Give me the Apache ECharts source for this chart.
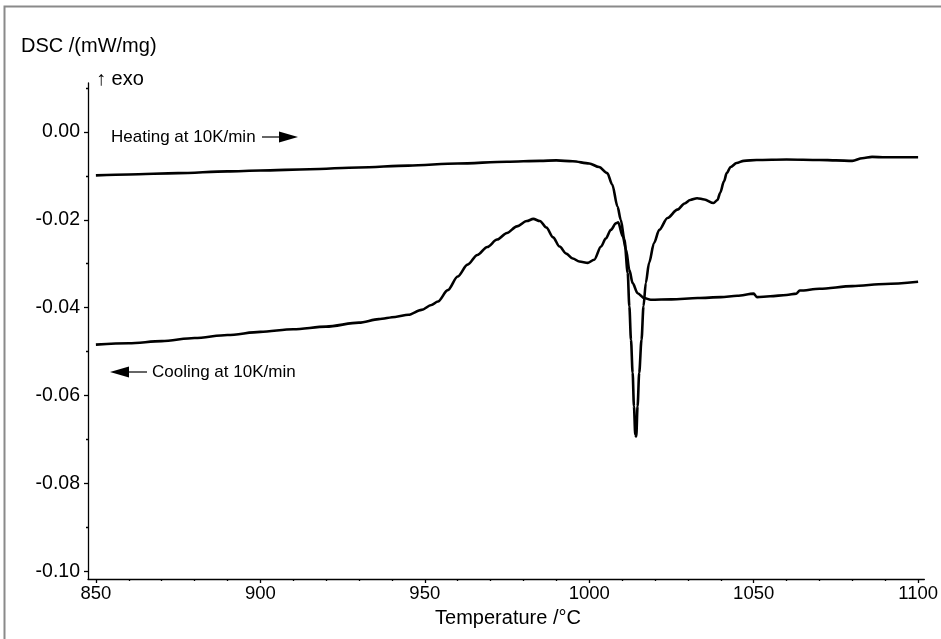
<!DOCTYPE html>
<html>
<head>
<meta charset="utf-8">
<script src="https://cdn.jsdelivr.net/npm/echarts@6/dist/echarts.min.js"></script>
<style>
html,body{margin:0;padding:0;background:#fff;}
#c{width:941px;height:639px;}
</style>
</head>
<body>
<div id="c"></div>
<script>
// ---- data ----
const heatT = [850,860,875,890,900,915,930,945,960,975,985,990,995,1000,1003,1005.5,1007,1008.6,1009.6,1010.7,1011.7,1012.2,1012.7,1013.2,1013.6,1014.0,1014.3,1014.7,1015.2,1015.9,1016.5,1017.2,1018.2,1019.7,1021.3,1023.8,1026.8,1029,1030.7,1032.8,1035,1037.8,1039,1039.8,1041,1041.8,1043,1044.8,1047,1050.9,1060,1070,1075,1080,1083,1086,1090,1095,1100];
const heatV = [-0.0099,-0.0097,-0.0094,-0.0090,-0.0088,-0.0085,-0.0081,-0.0077,-0.0072,-0.0068,-0.0066,-0.0065,-0.0067,-0.0072,-0.0080,-0.0094,-0.0120,-0.0170,-0.0200,-0.0245,-0.0321,-0.0397,-0.0473,-0.0548,-0.0624,-0.0689,-0.0693,-0.0624,-0.0548,-0.0473,-0.0397,-0.0344,-0.0298,-0.0253,-0.0223,-0.0196,-0.0177,-0.0163,-0.0155,-0.0151,-0.0154,-0.0162,-0.0155,-0.0139,-0.0112,-0.0094,-0.0080,-0.0071,-0.0066,-0.0064,-0.0063,-0.0064,-0.0065,-0.0066,-0.0060,-0.0057,-0.0058,-0.0058,-0.0058];
const coolT = [850,860,870,880,890,900,910,920,930,936,941,945,949,952,954,957,960,963,966,969,972,975,978,981,983,985,987,989,991,993,995,997,999.6,1001.5,1003.6,1005,1006.6,1008.1,1008.8,1010.2,1011.2,1012.2,1013.2,1014.7,1016.7,1018.7,1025,1033,1040,1045,1050,1051,1055,1060,1063,1064,1070,1080,1090,1100];
const coolV = [-0.0484,-0.0481,-0.0476,-0.0469,-0.0462,-0.0455,-0.0449,-0.0443,-0.0434,-0.0426,-0.0421,-0.0416,-0.0405,-0.0394,-0.0386,-0.0360,-0.0329,-0.0302,-0.0280,-0.0262,-0.0245,-0.0230,-0.0215,-0.0203,-0.0198,-0.0203,-0.0218,-0.0240,-0.0261,-0.0277,-0.0288,-0.0295,-0.0298,-0.0291,-0.0261,-0.0243,-0.0223,-0.0208,-0.0206,-0.0238,-0.0268,-0.0314,-0.0344,-0.0367,-0.0378,-0.0382,-0.0381,-0.0378,-0.0376,-0.0373,-0.0368,-0.0376,-0.0374,-0.0371,-0.0368,-0.0361,-0.0357,-0.0351,-0.0346,-0.0341];
const xMajorTicks = [850,900,950,1000,1050,1100];
const xMinorTicks = [860,870,880,890,910,920,930,940,960,970,980,990,1010,1020,1030,1040,1060,1070,1080,1090];
const yMajorTicks = [0,-0.02,-0.04,-0.06,-0.08,-0.10];
const yMinorTicks = [0.01,-0.01,-0.03,-0.05,-0.07,-0.09];
const yLabelText = ['0.00','-0.02','-0.04','-0.06','-0.08','-0.10'];
const texts = {
  yName: 'DSC /(mW/mg)',
  exo: '\u2191 exo',
  xName: 'Temperature /\u00B0C',
  heating: 'Heating at 10K/min',
  cooling: 'Cooling at 10K/min'
};

const FONT = '"Liberation Sans", Arial, sans-serif';
const X_MIN = 847.6, X_MAX = 1101.9, Y_MIN = -0.1017, Y_MAX = 0.0111;

const chart = echarts.init(document.getElementById('c'), null, {renderer: 'canvas'});
const zip = (a, b) => a.map((t, i) => [t, b[i]]);

function yFmt(v) {
  let best = 0, bd = 1e9;
  yMajorTicks.forEach((t, i) => { const d = Math.abs(t - v); if (d < bd) { bd = d; best = i; } });
  return yLabelText[best];
}

const option = {
  animation: false,
  backgroundColor: '#fff',
  grid: {left: 88, top: 83, right: 13, bottom: 60, containLabel: false},
  xAxis: [{
    type: 'value', min: X_MIN, max: X_MAX,
    axisLine: {show: true, onZero: false, lineStyle: {color: '#000', width: 1.3}},
    axisTick: {show: true, inside: false, length: 4, customValues: xMajorTicks, lineStyle: {color: '#000', width: 1.3}},
    axisLabel: {show: true, customValues: xMajorTicks, margin: 5, color: '#000', fontSize: 18.5, fontFamily: FONT, formatter: v => String(Math.round(v))},
    splitLine: {show: false}
  }, {
    type: 'value', min: X_MIN, max: X_MAX, gridIndex: 0, position: 'bottom',
    axisLine: {show: false, onZero: false},
    axisTick: {show: true, inside: false, length: 2, customValues: xMinorTicks, lineStyle: {color: '#000', width: 1.3}},
    axisLabel: {show: false},
    splitLine: {show: false}
  }],
  yAxis: [{
    type: 'value', min: Y_MIN, max: Y_MAX,
    axisLine: {show: true, onZero: false, lineStyle: {color: '#000', width: 1.3}},
    axisTick: {show: true, inside: false, length: 4, customValues: yMajorTicks, lineStyle: {color: '#000', width: 1.3}},
    axisLabel: {show: true, customValues: yMajorTicks, margin: 8, color: '#000', fontSize: 19.5, fontFamily: FONT, formatter: yFmt},
    splitLine: {show: false}
  }, {
    type: 'value', min: Y_MIN, max: Y_MAX, position: 'left',
    axisLine: {show: false, onZero: false},
    axisTick: {show: true, inside: false, length: 2, customValues: yMinorTicks, lineStyle: {color: '#000', width: 1.3}},
    axisLabel: {show: false},
    splitLine: {show: false}
  }],
  series: [{
    name: 'Heating', type: 'line', xAxisIndex: 0, yAxisIndex: 0,
    data: zip(heatT, heatV), showSymbol: false, symbol: 'none',
    smooth: 0.3, smoothMonotone: 'x',
    lineStyle: {color: '#000', width: 2.6}
  }, {
    name: 'Cooling', type: 'line', xAxisIndex: 0, yAxisIndex: 0,
    data: zip(coolT, coolV), showSymbol: false, symbol: 'none',
    smooth: 0.3, smoothMonotone: 'x',
    lineStyle: {color: '#000', width: 2.6}
  }],
  graphic: [
    {type: 'rect', silent: true, shape: {x: 4.5, y: 6.5, width: 1200, height: 1200}, style: {fill: 'none', stroke: '#8a8a8a', lineWidth: 2}},
    {type: 'text', x: 21, y: 46, style: {text: texts.yName, font: '20px ' + FONT, fill: '#000', verticalAlign: 'middle'}},
    {type: 'text', x: 96, y: 79, style: {text: texts.exo, font: '20px ' + FONT, fill: '#000', verticalAlign: 'middle'}},
    {type: 'text', x: 508, y: 618, style: {text: texts.xName, font: '20px ' + FONT, fill: '#000', align: 'center', verticalAlign: 'middle'}},
    {type: 'text', x: 111, y: 137, style: {text: texts.heating, font: '17px ' + FONT, fill: '#000', verticalAlign: 'middle'}},
    {type: 'line', shape: {x1: 262, y1: 137, x2: 282, y2: 137}, style: {stroke: '#000', lineWidth: 1.2}},
    {type: 'polygon', shape: {points: [[279, 131.5], [298, 137], [279, 142.5]]}, style: {fill: '#000'}},
    {type: 'text', x: 152, y: 372, style: {text: texts.cooling, font: '17px ' + FONT, fill: '#000', verticalAlign: 'middle'}},
    {type: 'line', shape: {x1: 126, y1: 372, x2: 147, y2: 372}, style: {stroke: '#000', lineWidth: 1.2}},
    {type: 'polygon', shape: {points: [[129, 366.5], [110, 372], [129, 377.5]]}, style: {fill: '#000'}}
  ]
};
chart.setOption(option);
</script>
</body>
</html>
